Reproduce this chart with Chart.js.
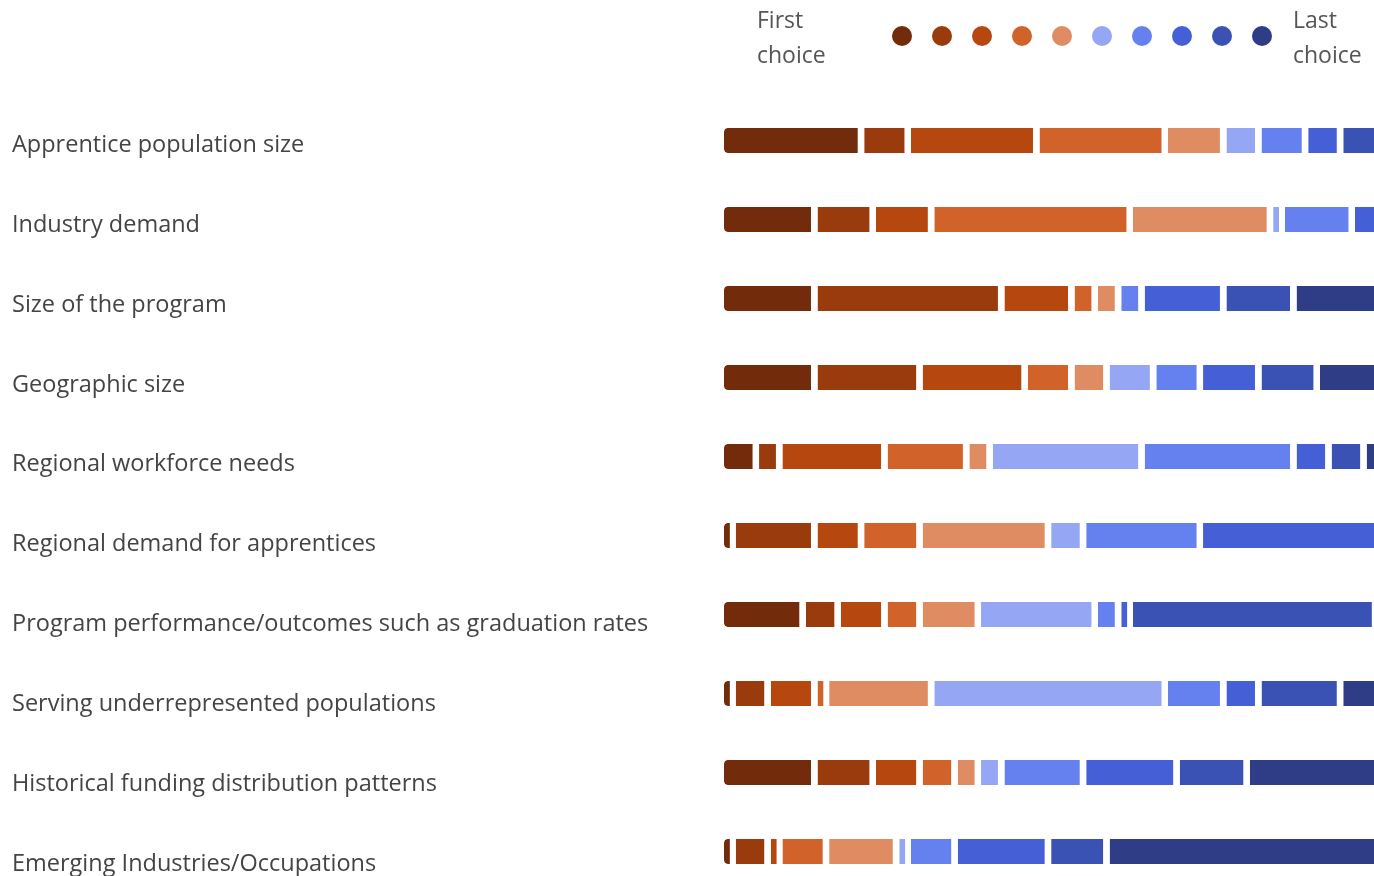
<!DOCTYPE html>
<html>
<head>
<meta charset="utf-8">
<title>Ranking results</title>
<script src="https://cdn.jsdelivr.net/npm/chart.js@4.4.1/dist/chart.umd.min.js"></script>
<style>
    html, body { margin: 0; padding: 0; background: #fff; overflow: hidden; }
    #wrap { position: relative; width: 1390px; height: 905px; }
    #wrap canvas { position: absolute; left: 0; top: 0; }
    .legend-text {
        position: absolute; top: 2px;
        font-family: 'Open Sans', 'Noto Sans', sans-serif;
        font-size: 23px; line-height: 35px; color: #555;
    }
    .legend-dot {
        position: absolute; top: 26px;
        width: 20px; height: 20px; border-radius: 50%;
    }
</style>
</head>
<body>
<div id="wrap">
    <canvas id="rankChart"></canvas>
    <div class="legend-text" style="left:757px">First<br>choice</div>
    <div id="dots"></div>
    <div class="legend-text" style="left:1293px">Last<br>choice</div>
</div>
<script>
// Items that were ranked (top to bottom)
const ITEMS = [
    'Apprentice population size',
    'Industry demand',
    'Size of the program',
    'Geographic size',
    'Regional workforce needs',
    'Regional demand for apprentices',
    'Program performance/outcomes such as graduation rates',
    'Serving underrepresented populations',
    'Historical funding distribution patterns',
    'Emerging Industries/Occupations',
];

// How many respondents put each item in a given place (first .. last choice)
const RANK_1  = [12, 8, 8, 8, 3, 1, 7, 1, 8, 1];
const RANK_2  = [4, 5, 16, 9, 2, 7, 3, 3, 5, 3];
const RANK_3  = [11, 5, 6, 9, 9, 4, 4, 4, 4, 1];
const RANK_4  = [11, 17, 2, 4, 7, 5, 3, 1, 3, 4];
const RANK_5  = [5, 12, 2, 3, 2, 11, 5, 9, 2, 6];
const RANK_6  = [3, 1, 0, 4, 13, 3, 10, 20, 2, 1];
const RANK_7  = [4, 6, 2, 4, 13, 10, 2, 5, 7, 4];
const RANK_8  = [3, 3, 7, 5, 3, 16, 1, 3, 8, 8];
const RANK_9  = [4, 0, 6, 5, 3, 0, 21, 7, 6, 5];
const RANK_10 = [0, 0, 8, 6, 2, 0, 1, 4, 12, 24];

const RANK_COLORS = [
    '#722c0b', '#993b0d', '#b5470f', '#d0622a', '#e08c62',
    '#94a6f4', '#6580ef', '#4560d6', '#3a52b3', '#2e3d85',
];

const RESPONDENTS = 57;

document.addEventListener('DOMContentLoaded', () => {
    // legend dots, one per rank colour
    const dots = document.getElementById('dots');
    RANK_COLORS.forEach((c, i) => {
        const d = document.createElement('div');
        d.className = 'legend-dot';
        d.style.left = (892 + i * 40) + 'px';
        d.style.background = c;
        dots.appendChild(d);
    });

    const ranks = [RANK_1, RANK_2, RANK_3, RANK_4, RANK_5, RANK_6, RANK_7, RANK_8, RANK_9, RANK_10];

    // floating bars: each rank segment runs from the running total to running total + count
    const running = ITEMS.map(() => 0);
    const datasets = ranks.map((counts, r) => {
        const data = counts.map((v, i) => {
            const seg = [running[i], running[i] + v];
            running[i] += v;
            return seg;
        });
        return {
            label: 'Rank ' + (r + 1),
            data: data,
            backgroundColor: RANK_COLORS[r],
            borderColor: '#ffffff',
            borderWidth: { top: 0, right: 6.5, bottom: 0, left: 0 },
            borderSkipped: false,
            borderRadius: r === 0 ? { topLeft: 4, bottomLeft: 4, topRight: 0, bottomRight: 0 } : 0,
            inflateAmount: 0,
            grouped: false,
            barThickness: 25,
        };
    });

    new Chart(document.getElementById('rankChart'), {
        type: 'bar',
        data: { labels: ITEMS, datasets: datasets },
        options: {
            indexAxis: 'y',
            responsive: false,
            animation: false,
            devicePixelRatio: 1,
            layout: { padding: { left: 12, top: 101, right: 0, bottom: 0 } },
            plugins: {
                legend: { display: false },
                tooltip: { enabled: false },
            },
            scales: {
                x: {
                    display: false,
                    min: 0,
                    max: RESPONDENTS,
                },
                // bars sit on the category axis; its labels are shown by 'names' below
                y: {
                    display: false,
                },
                // the item names run on a slightly wider pitch than the bars in the original
                names: {
                    type: 'linear',
                    position: 'left',
                    reverse: true,
                    offset: false,
                    bounds: 'data',
                    grid: { display: false },
                    border: { display: false },
                    afterBuildTicks: (axis) => {
                        axis.ticks = ITEMS.map((_, i) => ({ value: i }));
                        axis.min = -0.55;
                        axis.max = 9.33;
                    },
                    ticks: {
                        autoSkip: false,
                        crossAlign: 'far',
                        padding: 0,
                        color: '#444',
                        font: { family: "'Open Sans', 'Noto Sans', sans-serif", size: 23.5 },
                        callback: (v) => ITEMS[v],
                    },
                    afterFit: (axis) => { axis.width = 712; },
                },
            },
        },
    });
});
</script>
<script>
    // size the canvas before Chart.js reads it
    const cv = document.getElementById('rankChart');
    cv.width = 1390; cv.height = 905;
    cv.style.width = '1390px'; cv.style.height = '905px';
</script>
</body>
</html>
